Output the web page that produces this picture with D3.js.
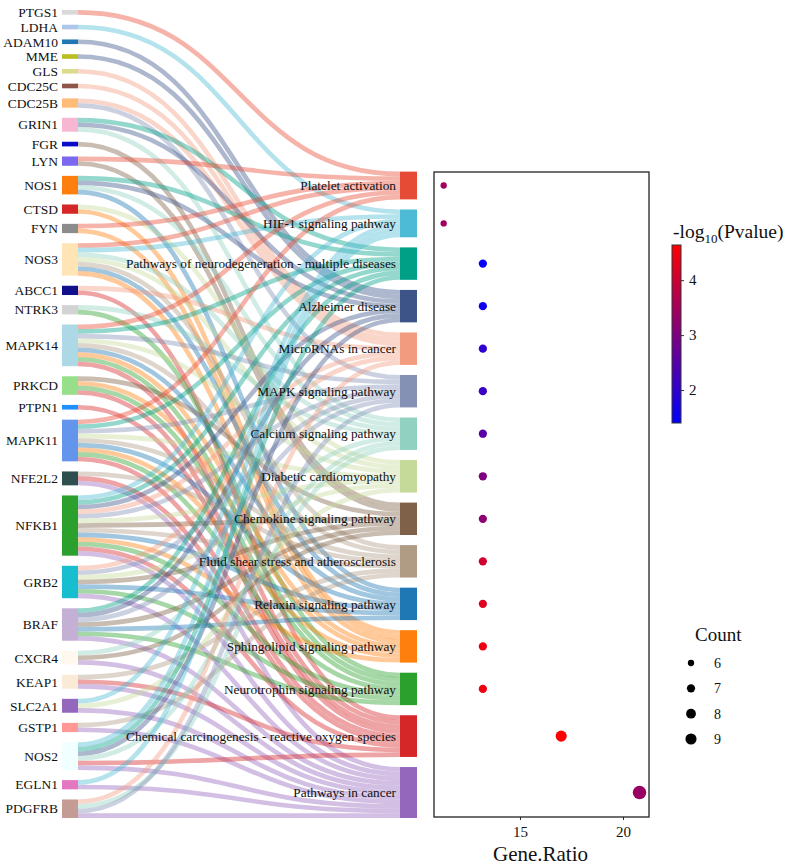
<!DOCTYPE html>
<html>
<head>
<meta charset="utf-8">
<title>Sankey + enrichment dot plot</title>
<script src="https://d3js.org/d3.v7.min.js"></script>
<style>
  body { margin: 0; background: #fff; }
  text { font-family: "Liberation Serif", "Times New Roman", serif; fill: #111; }
</style>
</head>
<body>
<div id="chart"></div>
<script>
"use strict";

// ---- data ----
var genes = ["PTGS1","LDHA","ADAM10","MME","GLS","CDC25C","CDC25B","GRIN1","FGR","LYN",
             "NOS1","CTSD","FYN","NOS3","ABCC1","NTRK3","MAPK14","PRKCD","PTPN1","MAPK11",
             "NFE2L2","NFKB1","GRB2","BRAF","CXCR4","KEAP1","SLC2A1","GSTP1","NOS2","EGLN1","PDGFRB"];
var geneColors = ["#d9d9d9","#aec7e8","#1f77b4","#bcbd22","#dbdb8d","#8c564b","#ffbb78","#f7b6d2","#0a0ac8","#7b68ee",
                  "#ff7f0e","#d62728","#8c8c8c","#ffe4b5","#10108a","#d3d3d3","#add8e6","#98df8a","#1e90ff","#6495ed",
                  "#2f4f4f","#2ca02c","#17becf","#c5b0d5","#fff8ee","#faebd7","#9467bd","#ff9896","#f0ffff","#e377c2","#c49c94"];

var pathwayKeys = ["Plt","HIF","Neu","Alz","miR","MAPK","Ca","Dia","Chk","Fld","Rlx","Sph","Ntr","Chm","Can"];
var pathways = ["Platelet activation","HIF-1 signaling pathway","Pathways of neurodegeneration - multiple diseases",
                "Alzheimer disease","MicroRNAs in cancer","MAPK signaling pathway","Calcium signaling pathway",
                "Diabetic cardiomyopathy","Chemokine signaling pathway","Fluid shear stress and atherosclerosis",
                "Relaxin signaling pathway","Sphingolipid signaling pathway","Neurotrophin signaling pathway",
                "Chemical carcinogenesis - reactive oxygen species","Pathways in cancer"];
var pathwayColors = ["#E64B35","#4DBBD5","#00A087","#3C5488","#F39B7F","#8491B4","#91D1C2","#C5DA98",
                     "#7E6148","#B09C85","#1f77b4","#ff7f0e","#2ca02c","#d62728","#9467bd"];

var geneRatio = [11.3, 11.3, 13.2, 13.2, 13.2, 13.2, 13.2, 13.2, 13.2, 13.2, 13.2, 13.2, 13.2, 17.0, 20.8];
var counts    = [6, 6, 7, 7, 7, 7, 7, 7, 7, 7, 7, 7, 7, 9, 11];
var negLogP   = [3.43, 3.43, 1.45, 1.6, 2.0, 2.14, 2.55, 3.0, 3.2, 4.04, 4.25, 4.42, 4.45, 4.6, 3.35];

var colorTicks = [2, 3, 4];
var ratioTicks = [15, 20];
var legendCounts = [6, 7, 8, 9];

// gene -> pathway links (one unit each)
var links = [
  ["PTGS1","Plt"], ["LDHA","HIF"], ["ADAM10","Alz"], ["MME","Alz"], ["GLS","miR"], ["CDC25C","miR"],
  ["CDC25B","miR"], ["CDC25B","MAPK"],
  ["GRIN1","Neu"], ["GRIN1","Alz"], ["GRIN1","Ca"],
  ["FGR","Chk"],
  ["LYN","Plt"], ["LYN","Chk"],
  ["NOS1","Neu"], ["NOS1","Alz"], ["NOS1","Ca"], ["NOS1","Rlx"],
  ["CTSD","Dia"], ["CTSD","Sph"],
  ["FYN","Plt"], ["FYN","Sph"],
  ["NOS3","Plt"], ["NOS3","HIF"], ["NOS3","Ca"], ["NOS3","Dia"], ["NOS3","Fld"], ["NOS3","Rlx"], ["NOS3","Sph"],
  ["ABCC1","miR"], ["ABCC1","Chm"],
  ["NTRK3","Ca"], ["NTRK3","Ntr"],
  ["MAPK14","Plt"], ["MAPK14","Neu"], ["MAPK14","MAPK"], ["MAPK14","Dia"], ["MAPK14","Fld"], ["MAPK14","Rlx"],
  ["MAPK14","Sph"], ["MAPK14","Ntr"], ["MAPK14","Chm"],
  ["PRKCD","Chk"], ["PRKCD","Sph"], ["PRKCD","Ntr"], ["PRKCD","Chm"],
  ["PTPN1","Chm"],
  ["MAPK11","Plt"], ["MAPK11","Neu"], ["MAPK11","MAPK"], ["MAPK11","Dia"], ["MAPK11","Fld"], ["MAPK11","Rlx"],
  ["MAPK11","Sph"], ["MAPK11","Ntr"], ["MAPK11","Chm"],
  ["NFE2L2","Fld"], ["NFE2L2","Chm"], ["NFE2L2","Can"],
  ["NFKB1","HIF"], ["NFKB1","Neu"], ["NFKB1","Alz"], ["NFKB1","miR"], ["NFKB1","MAPK"], ["NFKB1","Dia"],
  ["NFKB1","Chk"], ["NFKB1","Fld"], ["NFKB1","Rlx"], ["NFKB1","Sph"], ["NFKB1","Ntr"], ["NFKB1","Chm"], ["NFKB1","Can"],
  ["GRB2","miR"], ["GRB2","MAPK"], ["GRB2","Dia"], ["GRB2","Chk"], ["GRB2","Rlx"], ["GRB2","Ntr"], ["GRB2","Can"],
  ["BRAF","Neu"], ["BRAF","Alz"], ["BRAF","MAPK"], ["BRAF","Chk"], ["BRAF","Rlx"], ["BRAF","Ntr"], ["BRAF","Can"],
  ["CXCR4","Ca"], ["CXCR4","Chk"], ["CXCR4","Can"],
  ["KEAP1","Fld"], ["KEAP1","Chm"], ["KEAP1","Can"],
  ["SLC2A1","HIF"], ["SLC2A1","Dia"], ["SLC2A1","Can"],
  ["GSTP1","Fld"], ["GSTP1","Can"],
  ["NOS2","HIF"], ["NOS2","Neu"], ["NOS2","Alz"], ["NOS2","Ca"], ["NOS2","Chm"], ["NOS2","Can"],
  ["EGLN1","HIF"], ["EGLN1","Can"],
  ["PDGFRB","miR"], ["PDGFRB","Ca"], ["PDGFRB","MAPK"], ["PDGFRB","Can"]
];

// ---- layout ----
var W = 796, H = 866;
var top0 = 10, bottom0 = 818, pad = 10.1;
var leftX0 = 62, leftX1 = 78, rightX0 = 400, rightX1 = 417;
var serif = "Liberation Serif, Times New Roman, serif";

var svg = d3.select("#chart").append("svg").attr("width", W).attr("height", H);

var degree = genes.map(function(g) { return links.filter(function(l) { return l[0] === g; }).length; });
var inDeg = pathwayKeys.map(function(k) { return links.filter(function(l) { return l[1] === k; }).length; });
var ky = (bottom0 - top0 - pad * (genes.length - 1)) / d3.sum(degree);
var unit = d3.scaleLinear().domain([0, 1]).range([0, ky]);

var geneNodes = {}, y = top0;
genes.forEach(function(g, i) {
  var h = unit(degree[i]);
  geneNodes[g] = { name: g, y0: y, y1: y + h, color: geneColors[i], used: 0 };
  y += h + pad;
});
var rightTotal = d3.sum(inDeg.map(unit)) + pad * (pathways.length - 1);
var pathNodes = {};
y = bottom0 - rightTotal;
pathwayKeys.forEach(function(k, i) {
  var h = unit(inDeg[i]);
  pathNodes[k] = { name: pathways[i], y0: y, y1: y + h, color: pathwayColors[i], used: 0, i: i };
  y += h + pad;
});

var linkData = links.map(function(l) {
  var s = geneNodes[l[0]], t = pathNodes[l[1]];
  var sy = s.y0 + unit(s.used) + ky / 2; s.used++;
  var ty = t.y0 + unit(t.used) + ky / 2; t.used++;
  return { source: [leftX1, sy], target: [rightX0, ty], color: t.color };
});

var linkGen = d3.linkHorizontal();

svg.append("g").selectAll("path")
  .data(linkData)
  .enter().append("path")
    .attr("d", function(d) { return linkGen(d); })
    .attr("fill", "none")
    .attr("stroke", function(d) { return d.color; })
    .attr("stroke-opacity", 0.42)
    .attr("stroke-width", ky);

// gene nodes
var gn = svg.append("g").selectAll("g")
  .data(genes.map(function(g) { return geneNodes[g]; }))
  .enter().append("g");
gn.append("rect")
  .attr("x", leftX0).attr("width", leftX1 - leftX0)
  .attr("y", function(d) { return d.y0; })
  .attr("height", function(d) { return d.y1 - d.y0; })
  .attr("fill", function(d) { return d.color; });
gn.append("text")
  .attr("x", leftX0 - 4)
  .attr("y", function(d) { return (d.y0 + d.y1) / 2; })
  .attr("dy", "0.35em")
  .attr("text-anchor", "end")
  .style("font-size", "13.5px")
  .text(function(d) { return d.name; });

// pathway nodes
var pn = svg.append("g").selectAll("g")
  .data(pathwayKeys.map(function(k) { return pathNodes[k]; }))
  .enter().append("g");
pn.append("rect")
  .attr("x", rightX0).attr("width", rightX1 - rightX0)
  .attr("y", function(d) { return d.y0; })
  .attr("height", function(d) { return d.y1 - d.y0; })
  .attr("fill", function(d) { return d.color; });
pn.append("text")
  .attr("x", rightX0 - 4)
  .attr("y", function(d) { return (d.y0 + d.y1) / 2; })
  .attr("dy", "0.35em")
  .attr("text-anchor", "end")
  .style("font-size", "13.3px")
  .text(function(d) { return d.name; });

// ---- dot plot ----
var boxX0 = 434, boxX1 = 649, boxY0 = 172, boxY1 = 817;
var x = d3.scaleLinear().domain([10.83, 21.26]).range([boxX0, boxX1]);
var color = d3.scaleLinear().domain([1.4, 4.64]).range(["#0000ff", "#ff0000"]);
var area = d3.scaleLinear().domain([6, 11]).range([10, 45]);
function rad(c) { return Math.sqrt(area(c)); }

svg.append("rect")
  .attr("x", boxX0).attr("y", boxY0)
  .attr("width", boxX1 - boxX0).attr("height", boxY1 - boxY0)
  .attr("fill", "none").attr("stroke", "#222").attr("stroke-width", 1.3);

svg.append("g").selectAll("circle")
  .data(pathwayKeys)
  .enter().append("circle")
    .attr("cx", function(k, i) { return x(geneRatio[i]); })
    .attr("cy", function(k) { return (pathNodes[k].y0 + pathNodes[k].y1) / 2; })
    .attr("r", function(k, i) { return rad(counts[i]); })
    .attr("fill", function(k, i) { return color(negLogP[i]); });

var xAxis = svg.append("g")
  .attr("transform", "translate(0," + boxY1 + ")")
  .call(d3.axisBottom(x).tickValues(ratioTicks).tickSize(3).tickPadding(6).tickFormat(d3.format("d")));
xAxis.select(".domain").remove();
xAxis.attr("font-family", serif);
xAxis.selectAll("text").style("font-size", "15px").attr("fill", "#111");
xAxis.selectAll("line").attr("stroke", "#222");

svg.append("text")
  .attr("x", (boxX0 + boxX1) / 2 - 1).attr("y", 861)
  .attr("text-anchor", "middle")
  .style("font-size", "21px")
  .text("Gene.Ratio");

// ---- colour bar ----
var cbX = 672, cbW = 9, cbTop = 245, cbBot = 423;
var cy = d3.scaleLinear().domain([1.4, 4.64]).range([cbBot, cbTop]);
var grad = svg.append("defs").append("linearGradient")
  .attr("id", "cbar").attr("x1", 0).attr("y1", 1).attr("x2", 0).attr("y2", 0);
grad.append("stop").attr("offset", "0%").attr("stop-color", color(1.4));
grad.append("stop").attr("offset", "100%").attr("stop-color", color(4.64));
svg.append("rect")
  .attr("x", cbX).attr("y", cbTop).attr("width", cbW).attr("height", cbBot - cbTop)
  .attr("fill", "url(#cbar)").attr("stroke", "#333").attr("stroke-width", 1);
var cAxis = svg.append("g")
  .attr("transform", "translate(" + (cbX + cbW) + ",0)")
  .call(d3.axisRight(cy).tickValues(colorTicks).tickSize(3).tickPadding(5).tickFormat(d3.format("d")));
cAxis.select(".domain").remove();
cAxis.attr("font-family", serif);
cAxis.selectAll("text").style("font-size", "15px").attr("fill", "#111");
cAxis.selectAll("line").attr("stroke", "#333");

var ct = svg.append("text").attr("x", 673).attr("y", 238).style("font-size", "19.5px");
ct.append("tspan").text("-log");
ct.append("tspan").attr("dy", 5).style("font-size", "13px").text("10");
ct.append("tspan").attr("dy", -5).text("(Pvalue)");

// ---- size legend ----
svg.append("text").attr("x", 695).attr("y", 641).style("font-size", "19px").text("Count");
var ly = d3.scaleLinear().domain([6, 9]).range([663, 739]);
var lg = svg.append("g").selectAll("g").data(legendCounts).enter().append("g");
lg.append("circle")
  .attr("cx", 691).attr("cy", function(d) { return ly(d); })
  .attr("r", function(d) { return rad(d); })
  .attr("fill", "#000");
lg.append("text")
  .attr("x", 714).attr("y", function(d) { return ly(d); })
  .attr("dy", "0.35em")
  .style("font-size", "14px")
  .text(function(d) { return d; });
</script>
</body>
</html>
